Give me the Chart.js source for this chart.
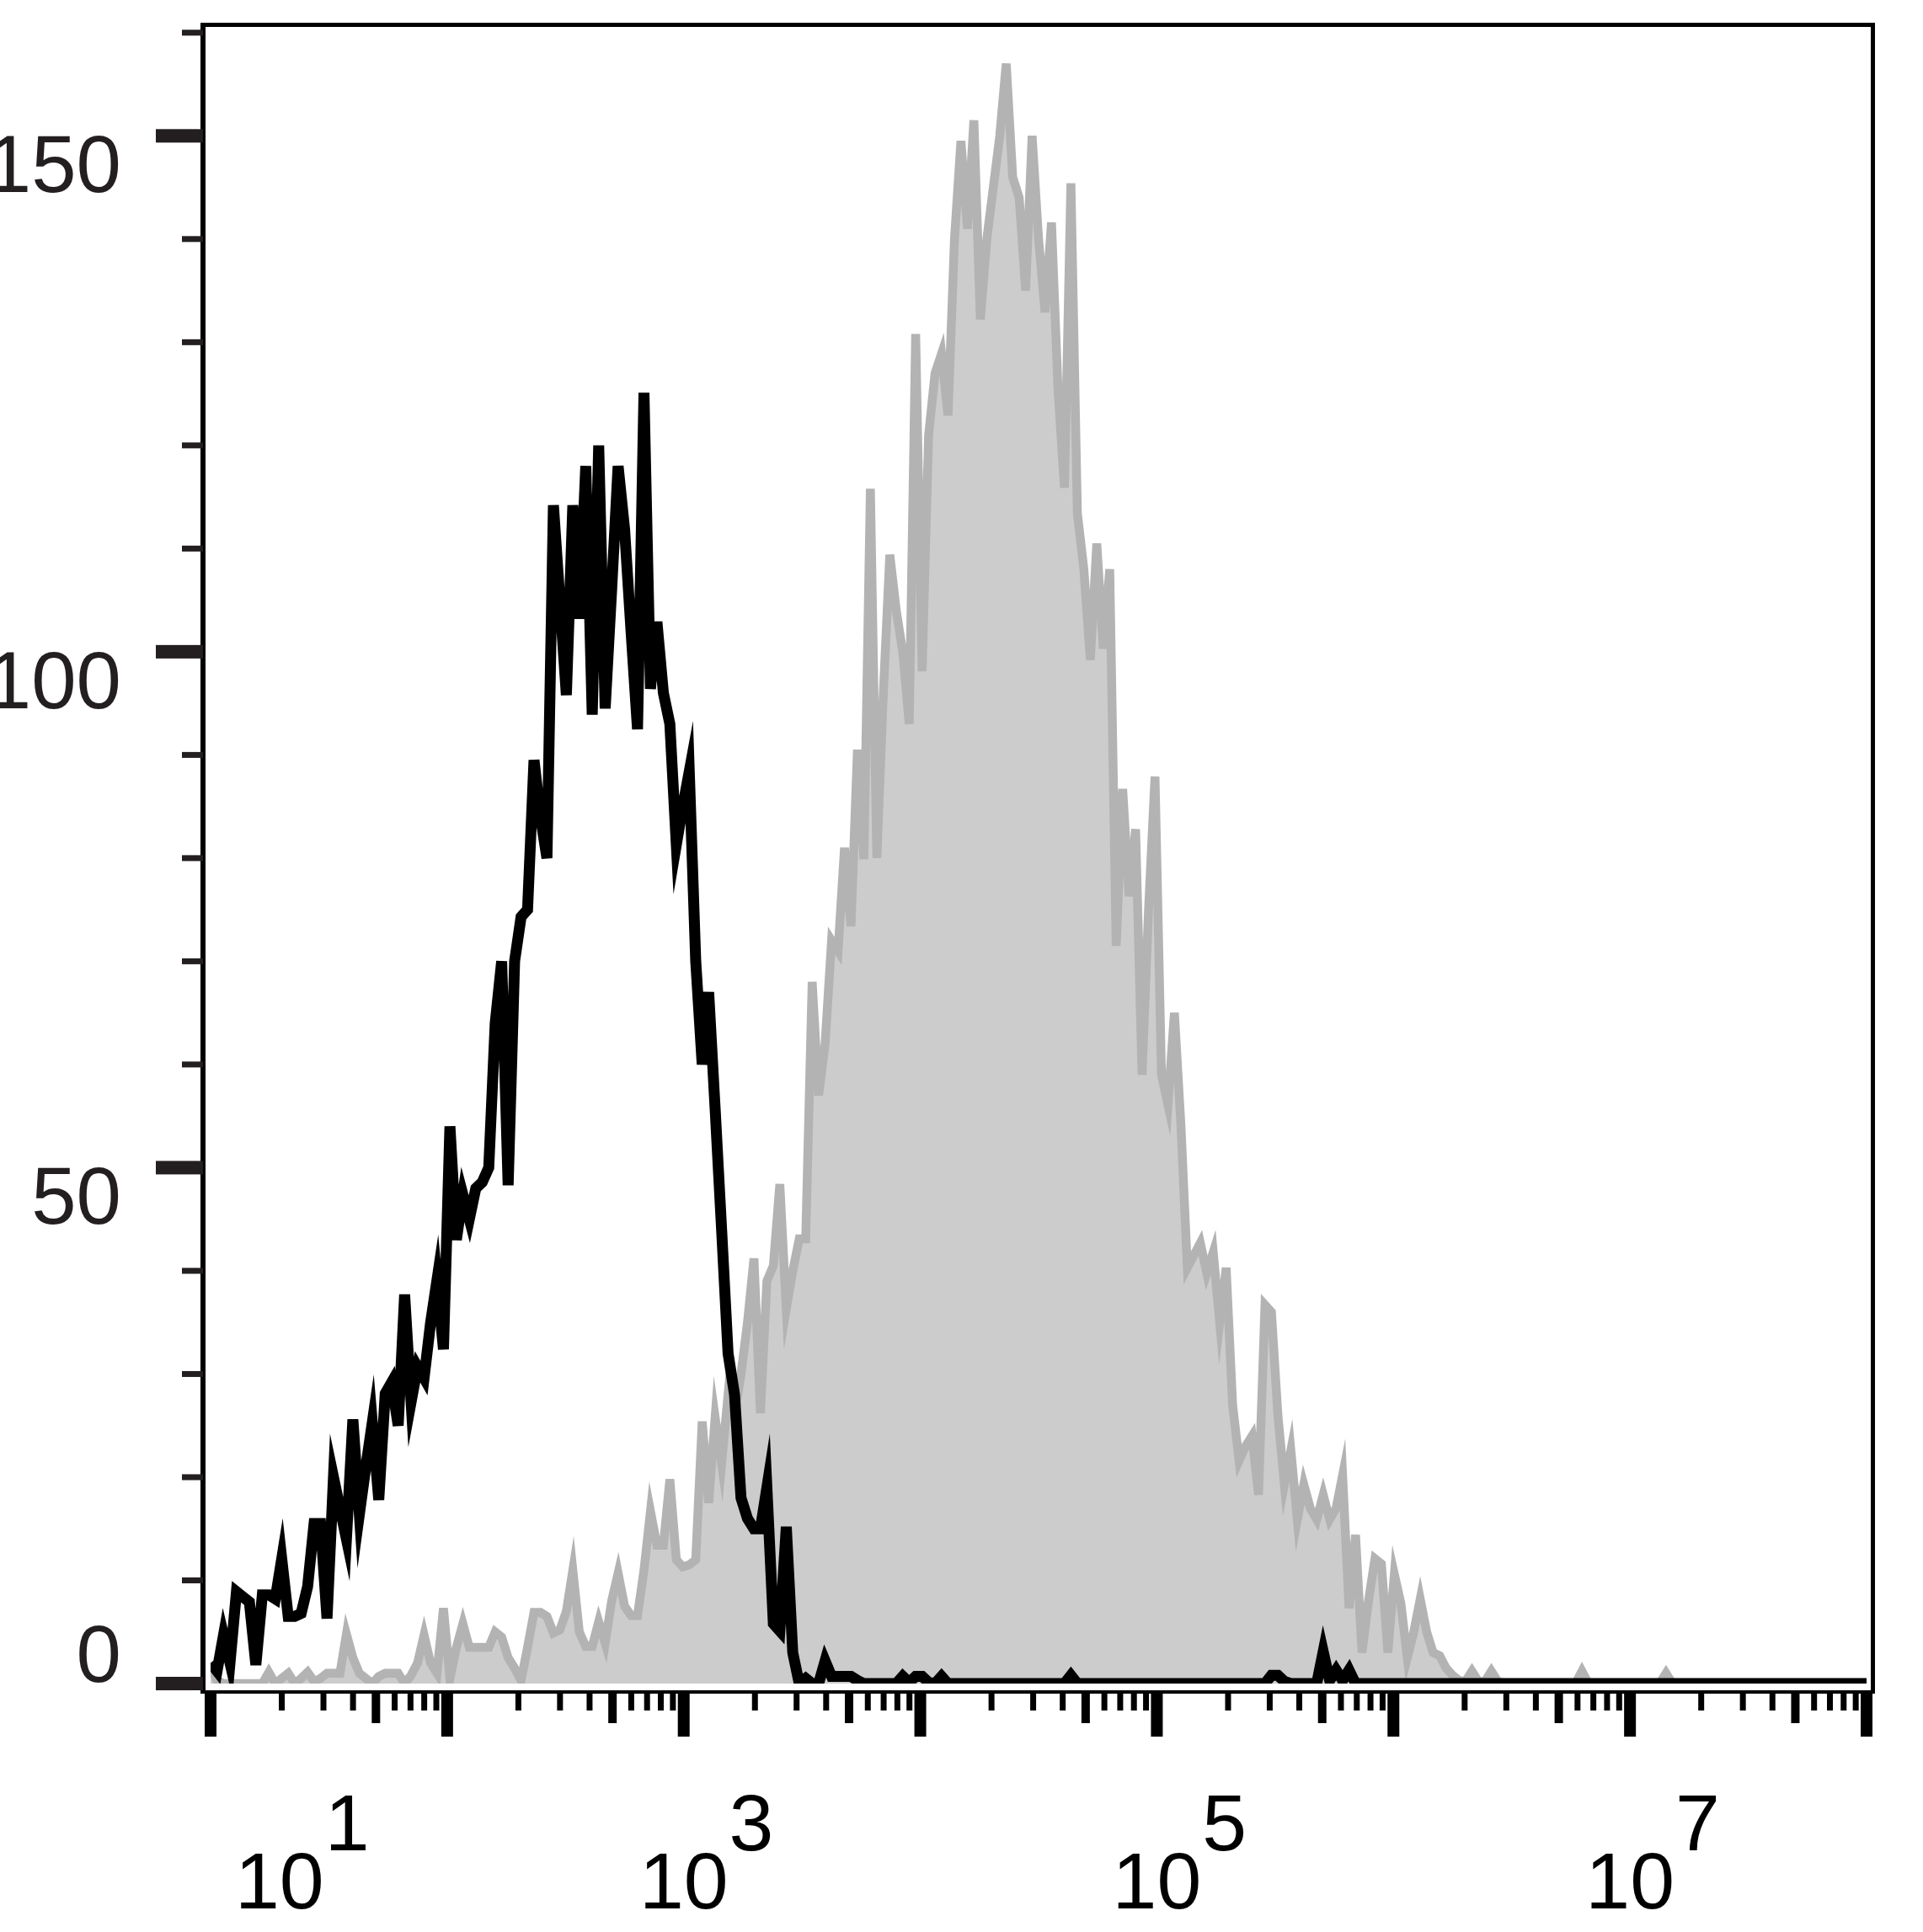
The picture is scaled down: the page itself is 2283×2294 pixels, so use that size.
<!doctype html>
<html lang="en">
  <head>
    <meta charset="utf-8">
    <title>Histogram overlay</title>
    <script src="https://cdn.jsdelivr.net/npm/chart.js"></script>
    <style>
      body { margin: 0; background: #fff; }
      canvas { display: block; }
    </style>
  </head>
  <body>
    <canvas id="histChart" width="2283" height="2294"></canvas>

    <script type="text/javascript">
      // histogram bins: log10 position of the first bin and bin width (decades)
      var binStart = 1;
      var binStep = 7 / 256;

      // black open histogram (counts per bin)
      var blackCounts = [
        2.0, 1.2, 4.7, 2.0, 8.9, 8.4, 7.9, 1.8, 8.6, 8.6, 8.2, 12.1, 6.5, 6.5, 6.8, 9.4,
        15.5, 15.5, 6.3, 20, 17, 14, 25.6, 16.4, 21, 25.3, 17.8, 28.1, 29.2, 25, 37.7, 27.3,
        30.7, 29.6, 34.9, 39.1, 32.4, 54, 43, 47.4, 45, 48, 48.6, 50, 64, 70, 48.3, 70,
        74.3, 75, 89.5, 84, 80, 114.2, 105, 95.8, 114.2, 103.2, 118, 93.9, 120, 94.5, 106, 118,
        111.9, 102, 92.5, 125.1, 96.4, 102.9, 96, 93, 81.3, 85, 88.4, 70, 60, 67, 55.7, 44,
        32, 28, 18, 16, 15, 15, 19, 5.8, 5.1, 15.2, 3, 0, 0.5, 0, 0, 2.2,
        0.7, 0.7, 0.7, 0.7, 0.3, 0, 0, 0, 0, 0, 0, 0.7, 0.1, 0.7, 0.7, 0.1,
        0, 0.7, 0, 0, 0, 0, 0, 0, 0, 0, 0, 0, 0, 0, 0, 0,
        0, 0, 0, 0, 0, 0.8, 0, 0, 0, 0, 0, 0, 0, 0, 0, 0,
        0, 0, 0, 0, 0, 0, 0, 0, 0, 0, 0, 0, 0, 0, 0, 0,
        0, 0, 0, 0, 0.8, 0.8, 0.2, 0, 0, 0, 0, 0, 3.1, 0.3, 1.3, 0.3,
        1.3, 0, 0, 0, 0, 0, 0, 0, 0, 0, 0, 0, 0, 0, 0, 0,
        0, 0, 0, 0, 0, 0, 0, 0, 0, 0, 0, 0, 0, 0, 0, 0,
        0, 0, 0, 0, 0, 0, 0, 0, 0, 0, 0, 0, 0, 0, 0, 0,
        0, 0, 0, 0, 0, 0, 0, 0, 0, 0, 0, 0, 0, 0, 0, 0,
        0, 0, 0, 0, 0, 0, 0, 0, 0, 0, 0, 0, 0, 0, 0, 0,
        0
      ];

      // grey filled histogram (counts per bin)
      var greyCounts = [
        1.8, 0.3, 0, 0, 0, 0, 0, 0, 0, 1.1, 0, 0.5, 1, 0, 0.5, 1.1,
        0.2, 0.5, 1, 1, 1, 4.8, 2.5, 1, 0.5, 0, 0.7, 1, 1, 1, 0, 0.8,
        2, 4.7, 2, 1, 7.3, 0.5, 3.5, 5.8, 3.5, 3.5, 3.5, 3.5, 5, 4.5, 2.5, 1.5,
        0.3, 3.5, 6.9, 6.9, 6.5, 4.9, 5.2, 7, 11, 5, 3.6, 3.6, 6, 3.9, 8, 10.7,
        7.5, 6.6, 6.6, 11, 16.7, 13.4, 13.4, 19.8, 12, 11.3, 11.5, 12, 25.4, 17.5, 25.8, 21.3,
        28, 26, 30, 35, 41.2, 26.2, 39, 40.5, 48.4, 36.3, 40, 43.1, 43.1, 68, 57, 62,
        72, 71, 81, 73.4, 90.5, 79.9, 115.8, 80, 96, 109.4, 104, 100, 93, 130.8, 98.1, 121,
        127, 128.9, 122.9, 140, 149.5, 141, 151.5, 132.2, 140, 145, 150, 157, 146, 144, 135, 150,
        140, 132.9, 141.6, 125.5, 115.9, 145.4, 113.4, 108, 99.2, 110.5, 100.3, 108, 71.5, 86.7, 76.3, 82.8,
        59, 75, 87.9, 59, 56.1, 65, 54.2, 40.3, 41.5, 42.7, 39.8, 41.8, 35, 40.3, 27, 21.6,
        23, 24, 18.3, 36.7, 36, 26, 19.3, 22.6, 15.9, 19.3, 17, 15.9, 18.3, 15.9, 17, 20.2,
        7.3, 14.4, 3, 8, 12.1, 11.6, 3, 10.6, 7.8, 2.5, 5, 8.2, 5, 3, 2.7, 1.5,
        0.8, 0.3, 0.2, 1.2, 0.2, 0.2, 1.2, 0.2, 0, 0, 0, 0, 0, 0, 0, 0,
        0, 0, 0, 0, 1.2, 0, 0, 0, 0, 0, 0, 0, 0, 0, 0, 0,
        0, 1, 0, 0, 0, 0, 0, 0, 0, 0, 0, 0, 0, 0, 0, 0,
        0, 0, 0, 0, 0, 0, 0, 0, 0, 0, 0, 0, 0, 0, 0, 0,
        0
      ];

      // axis ticks and labels
      var yTickValues = [0, 10, 20, 30, 40, 50, 60, 70, 80, 90, 100, 110, 120, 130, 140, 150, 160];
      var yLabelValues = [0, 50, 100, 150];
      var xDecades = [10, 100, 1000, 10000, 100000, 1000000, 10000000];
      var xMantissas = [1, 2, 3, 4, 5, 6, 7, 8, 9];
      var xLabelExponents = ['1', '3', '5', '7'];

      function toPoints(counts) {
        return counts.map(function (v, i) {
          return { x: Math.pow(10, binStart + i * binStep), y: v };
        });
      }

      var axesPlugin = {
        id: 'flowAxes',
        beforeDraw: function (chart) {
          var ctx = chart.ctx;
          ctx.save();
          ctx.fillStyle = '#ffffff';
          ctx.fillRect(0, 0, chart.width, chart.height);
          ctx.restore();
        },
        afterDraw: function (chart) {
          var ctx = chart.ctx;
          var a = chart.chartArea;
          var xs = chart.scales.x;
          var ys = chart.scales.y;
          var frameL = a.left - 9, frameR = a.right + 7, frameT = a.top - 2, frameB = a.bottom + 8;

          ctx.save();

          // frame
          ctx.fillStyle = '#000000';
          ctx.fillRect(frameL - 3, frameT, 6, frameB - frameT + 4);
          ctx.fillRect(frameL - 3, frameT, frameR - frameL + 5, 5);
          ctx.fillRect(frameR - 2, frameT, 5, frameB - frameT + 4);
          ctx.fillRect(frameL - 3, frameB, frameR - frameL + 5, 4);

          // y ticks
          ctx.fillStyle = '#231f20';
          yTickValues.forEach(function (v) {
            var py = ys.getPixelForValue(v);
            if (yLabelValues.indexOf(v) >= 0) {
              ctx.fillRect(frameL - 56, py - 8, 56, 16);
            } else {
              ctx.fillRect(frameL - 25, py - 3.5, 25, 7);
            }
          });

          // y labels
          ctx.font = '96px "Liberation Sans", Arial, sans-serif';
          ctx.textAlign = 'right';
          ctx.textBaseline = 'alphabetic';
          yLabelValues.forEach(function (v) {
            var py = ys.getPixelForValue(v);
            var base = v === 0 ? py - 2 : py + 67;
            ctx.fillText(String(v), frameL - 97, base);
          });

          // x ticks
          ctx.fillStyle = '#000000';
          var tickTop = frameB + 2;
          var xTicks = [];
          xDecades.forEach(function (d) {
            xMantissas.forEach(function (m) {
              xTicks.push({ v: m * d, m: m });
            });
          });
          xTicks.push({ v: xDecades[xDecades.length - 1] * 10, m: 1 });
          xTicks.forEach(function (t) {
            var px = xs.getPixelForValue(t.v);
            if (t.m === 1) {
              ctx.fillRect(px - 7, tickTop, 14, 53);
            } else if (t.m === 5) {
              ctx.fillRect(px - 5, tickTop, 10, 37);
            } else {
              ctx.fillRect(px - 3.5, tickTop, 7, 22);
            }
          });

          // x labels: 10 with raised exponent
          ctx.font = '95px "Liberation Sans", Arial, sans-serif';
          ctx.textAlign = 'left';
          var w10 = ctx.measureText('10').width;
          xLabelExponents.forEach(function (e) {
            var cx = xs.getPixelForValue(Math.pow(10, Number(e)));
            if (cx - w10 / 2 < a.left + 29) {
              cx = a.left + 29 + w10 / 2;
            }
            var x0 = cx - w10 / 2;
            ctx.fillText('10', x0, 2266);
            ctx.fillText(e, x0 + w10 + 1, 2197);
          });

          ctx.restore();
        }
      };

      var ctx = document.getElementById('histChart').getContext('2d');
      var chart = new Chart(ctx, {
        type: 'line',
        data: {
          datasets: [
            {
              label: 'Sample',
              data: toPoints(blackCounts),
              borderColor: '#000000',
              borderWidth: 13,
              pointRadius: 0,
              tension: 0,
              fill: false,
              order: 0
            },
            {
              label: 'Control',
              data: toPoints(greyCounts),
              borderColor: '#b3b3b3',
              backgroundColor: '#cccccc',
              borderWidth: 10.5,
              pointRadius: 0,
              tension: 0,
              fill: 'origin',
              order: 1
            }
          ]
        },
        options: {
          responsive: false,
          animation: false,
          devicePixelRatio: 1,
          layout: { padding: { left: 250, right: 67, top: 29, bottom: 295 } },
          elements: { line: { borderWidth: 13 } },
          plugins: {
            legend: { display: false },
            tooltip: { enabled: false }
          },
          scales: {
            x: { type: 'logarithmic', min: 10, max: 100000000, display: false },
            y: { type: 'linear', min: 0, max: 160.8, display: false }
          }
        },
        plugins: [axesPlugin]
      });
    </script>
  </body>
</html>
